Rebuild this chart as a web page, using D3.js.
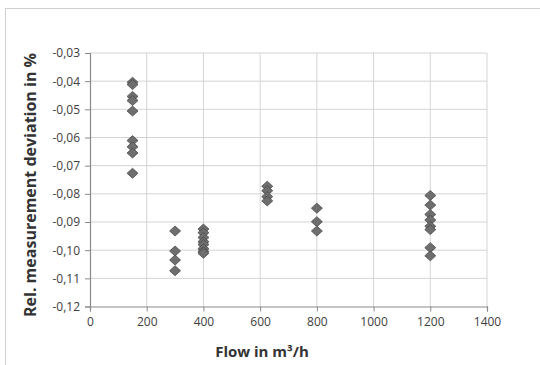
<!DOCTYPE html>
<html><head><meta charset="utf-8">
<script src="https://cdn.jsdelivr.net/npm/d3@7"></script>
<style>body{margin:0;background:#fff}svg{display:block}</style>
</head><body>
<svg id="c" width="540" height="365"></svg>
<script>
const flow150 = [-0.0404, -0.0412, -0.0454, -0.0469, -0.0506, -0.0611, -0.0633, -0.0655, -0.0727];
const flow300 = [-0.0932, -0.1003, -0.1035, -0.1073];
const flow400 = [-0.0925, -0.0938, -0.0955, -0.0970, -0.0980, -0.0995, -0.1005, -0.1011];
const flow625 = [-0.0773, -0.0789, -0.0810, -0.0825];
const flow800 = [-0.0851, -0.0899, -0.0932];
const flow1200 = [-0.0806, -0.0840, -0.0873, -0.0893, -0.0915, -0.0927, -0.0991, -0.1020];
const groups = [[150, flow150], [300, flow300], [400, flow400], [625, flow625], [800, flow800], [1200, flow1200]];
const xTicks = [0, 200, 400, 600, 800, 1000, 1200, 1400];
const yTicks = [-0.03, -0.04, -0.05, -0.06, -0.07, -0.08, -0.09, -0.10, -0.11, -0.12];

const svg = d3.select("#c");
const L = 90, R = 487, T = 53, B = 306.5;
const x = d3.scaleLinear().domain([0, 1400]).range([L, R]);
const y = d3.scaleLinear().domain([-0.12, -0.03]).range([B, T]);

// outer frame
svg.append("rect").attr("x", 5.5).attr("y", 8.5).attr("width", 560).attr("height", 400)
  .attr("fill", "none").attr("stroke", "#d0d0d0").attr("stroke-width", 1);

// gridlines
svg.append("g").selectAll("line").data(yTicks.slice(0, -1)).join("line")
  .attr("x1", L).attr("x2", R).attr("y1", d => y(d)).attr("y2", d => y(d))
  .attr("stroke", "#d4d4d4").attr("stroke-width", 1);
svg.append("g").selectAll("line").data(xTicks.slice(1)).join("line")
  .attr("x1", d => x(d)).attr("x2", d => x(d)).attr("y1", T).attr("y2", B)
  .attr("stroke", "#d4d4d4").attr("stroke-width", 1);

// axes
const fmt = d => d3.format(".2f")(d).replace("−", "-").replace(".", ",");
const yAxis = svg.append("g").attr("transform", `translate(${L},0)`)
  .call(d3.axisLeft(y).tickValues(yTicks).tickSize(5).tickPadding(5).tickFormat(fmt));
const xAxis = svg.append("g").attr("transform", `translate(0,${B})`)
  .call(d3.axisBottom(x).tickValues(xTicks).tickSize(5).tickPadding(6).tickFormat(d3.format("d")));
[yAxis, xAxis].forEach(a => {
  a.select(".domain").attr("stroke", "#8a8a8a").attr("stroke-width", 1.2);
  a.selectAll(".tick line").attr("stroke", "#8a8a8a");
  a.selectAll("text").attr("fill", "#404040").style("font-family", "'Open Sans', sans-serif").style("font-size", "12px");
});

// points (diamonds)
const diamond = "M0,-5L5.5,0L0,5L-5.5,0Z";
const pts = groups.flatMap(([f, vals]) => vals.map(v => ({f, v})));
svg.append("g").selectAll("path").data(pts).join("path")
  .attr("transform", d => `translate(${x(d.f)},${y(d.v)})`)
  .attr("d", diamond)
  .attr("fill", "#6e6e6e").attr("stroke", "#4a4a4a").attr("stroke-width", 0.8);

// titles
svg.append("text").attr("transform", `translate(36,185) rotate(-90)`)
  .attr("text-anchor", "middle").attr("fill", "#333")
  .style("font-family", "'Open Sans', sans-serif").style("font-weight", "bold").style("font-size", "16px")
  .text("Rel. measurement deviation in %");
svg.append("text").attr("x", 262).attr("y", 357)
  .attr("text-anchor", "middle").attr("fill", "#333")
  .style("font-family", "'Open Sans', sans-serif").style("font-weight", "bold").style("font-size", "15px")
  .text("Flow in m³/h");
</script>
</body></html>
